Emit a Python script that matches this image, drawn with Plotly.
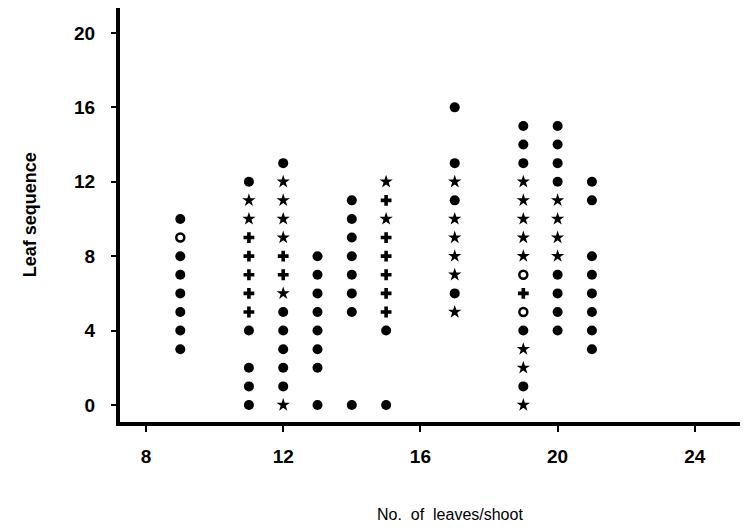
import plotly.graph_objects as go

# Leaves per shoot (x) -> leaf sequence positions (y), by marker type
filled_dots = {
    9: [10, 8, 7, 6, 5, 4, 3],
    11: [12, 4, 2, 1, 0],
    12: [13, 5, 4, 3, 2, 1],
    13: [8, 7, 6, 5, 4, 3, 2, 0],
    14: [11, 10, 9, 8, 7, 6, 5, 0],
    15: [4, 0],
    17: [16, 13, 11, 6],
    19: [15, 14, 13, 4, 1],
    20: [15, 14, 13, 12, 7, 6, 5, 4],
    21: [12, 11, 8, 7, 6, 5, 4, 3],
}
stars = {
    11: [11, 10],
    12: [12, 11, 10, 9, 6, 0],
    15: [12, 10],
    17: [12, 10, 9, 8, 7, 5],
    19: [12, 11, 10, 9, 8, 3, 2, 0],
    20: [11, 10, 9, 8],
}
crosses = {
    11: [9, 8, 7, 6, 5],
    12: [8, 7],
    15: [11, 9, 8, 7, 6, 5],
    19: [6],
}
open_dots = {
    9: [9],
    19: [7, 5],
}
x_ticks = [8, 12, 16, 20, 24]
y_ticks = [0, 4, 8, 12, 16, 20]


def flatten(d):
    xs, ys = [], []
    for k, vals in d.items():
        for v in vals:
            xs.append(k)
            ys.append(v)
    return xs, ys


fig = go.Figure()
specs = [
    (filled_dots, dict(symbol="circle", size=10, color="black")),
    (stars, dict(symbol="star", size=10, color="black")),
    (crosses, dict(symbol="cross", size=9, color="black")),
    (open_dots, dict(symbol="circle-open", size=8, color="black", line=dict(width=2.5, color="black"))),
]
for d, m in specs:
    xs, ys = flatten(d)
    fig.add_trace(go.Scatter(x=xs, y=ys, mode="markers", marker=m, showlegend=False,
                             hoverinfo="x+y"))

FONT = "Liberation Sans, Arial, sans-serif"
tickfont = dict(family=FONT, size=19, color="black", weight="bold")

fig.update_layout(
    width=740, height=514,
    margin=dict(l=112, r=0, t=0, b=100),
    paper_bgcolor="white", plot_bgcolor="white",
    xaxis=dict(range=[7.242, 25.55], tickvals=x_ticks, showgrid=False, zeroline=False,
               showline=True, linecolor="black", linewidth=4,
               ticks="outside", ticklen=6, tickwidth=2, tickcolor="black",
               tickfont=tickfont, ticklabelstandoff=8),
    yaxis=dict(range=[-0.914, 21.34], tickvals=y_ticks, showgrid=False, zeroline=False,
               showline=True, linecolor="black", linewidth=4,
               ticks="outside", ticklen=5, tickwidth=2, tickcolor="black",
               tickfont=tickfont, ticklabelstandoff=12),
    annotations=[
        dict(text="No.  of  leaves/shoot", xref="paper", yref="paper",
             x=0.525, y=-0.2246, xanchor="center", yanchor="middle", showarrow=False,
             font=dict(family=FONT, size=16, color="black")),
        dict(text="Leaf sequence", xref="paper", yref="paper", textangle=-90,
             x=-0.143, y=0.5, xanchor="center", yanchor="middle", showarrow=False,
             font=dict(family=FONT, size=18, color="black", weight="bold")),
    ],
)

fig.write_html("out.html")
